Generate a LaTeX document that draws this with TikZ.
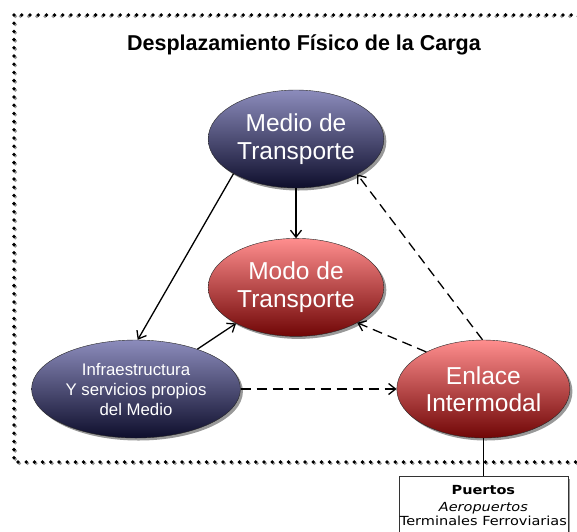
\documentclass[tikz,border=0pt]{standalone}
\usepackage{fontspec}
\setmainfont{Liberation Sans}
\newfontfamily\boxfont[FakeStretch=1.16]{DejaVu Sans}
\usetikzlibrary{positioning,arrows.meta,shapes.geometric,shadows}
\definecolor{bluetop}{RGB}{140,140,188}
\definecolor{bluebot}{RGB}{14,14,44}
\definecolor{redtop}{RGB}{255,142,142}
\definecolor{redbot}{RGB}{112,6,6}

\begin{document}
\begin{tikzpicture}[x=1pt,y=1pt,node distance=50pt,
 ell/.style={ellipse,draw=black!85,thin,minimum width=168pt,minimum height=98pt,align=center,text=white,font=\fontsize{24.5}{27.5}\selectfont,
  drop shadow={shadow xshift=2.5pt,shadow yshift=-2.5pt,fill=black!50,opacity=0.8}},
 blueell/.style={ell,top color=bluetop,bottom color=bluebot},
 redell/.style={ell,top color=redtop,bottom color=redbot},
 portbox/.style={draw=black!80,fill=white,minimum width=169pt,inner xsep=1pt,align=center,inner ysep=9pt,font=\boxfont\fontsize{12.5}{14.5}\selectfont,
  drop shadow={shadow xshift=2.5pt,shadow yshift=-2.5pt,fill=black!50,opacity=0.8}},
 dotline/.style={line width=3.8pt,line cap=round,dash pattern=on 0pt off 8.2pt},
 arr/.style={-{Straight Barb[length=7pt,width=11pt]},line width=1.3pt},
 dasharr/.style={arr,dash pattern=on 10pt off 6pt}]
\useasboundingbox (0,0) rectangle (577,-531);
% dotted frame
\draw[dotline,black!40] (15.3,-16.3) rectangle (600,-463.3);
\draw[dotline] (14,-15) rectangle (600,-462);
\node[anchor=base,font=\bfseries\fontsize{21.5}{24}\selectfont] (title) at (304,-50) {Desplazamiento Físico de la Carga};
% ellipses
\node[blueell] (medio) at (296,-139) {Medio de\\Transporte};
\node[redell,below=of medio] (modo) {Modo de\\Transporte};
\node[blueell,minimum width=172pt,font=\fontsize{16.8}{20}\selectfont] (infra) at (136,-389) {Infraestructura\\Y servicios propios\\del Medio};
\node[redell,right=156pt of infra] (enlace) {Enlace\\Intermodal};
\node[portbox,below=38pt of enlace] (ports) {\textbf{Puertos}\\[2pt]\textit{Aeropuertos}\\Terminales Ferroviarias};
% connectors
\draw[arr] (medio) -- (modo);
\draw[arr] (medio.209) -- (infra.88);
\draw[arr] (infra.33) -- (modo.211);
\draw[dasharr] (infra.east) -- (enlace.west);
\draw[dasharr] (enlace.147) -- (modo.-30);
\draw[dasharr] (enlace.91) -- (medio.-30);
\draw[line width=1pt] (enlace) -- (ports);
\end{tikzpicture}
\end{document}
